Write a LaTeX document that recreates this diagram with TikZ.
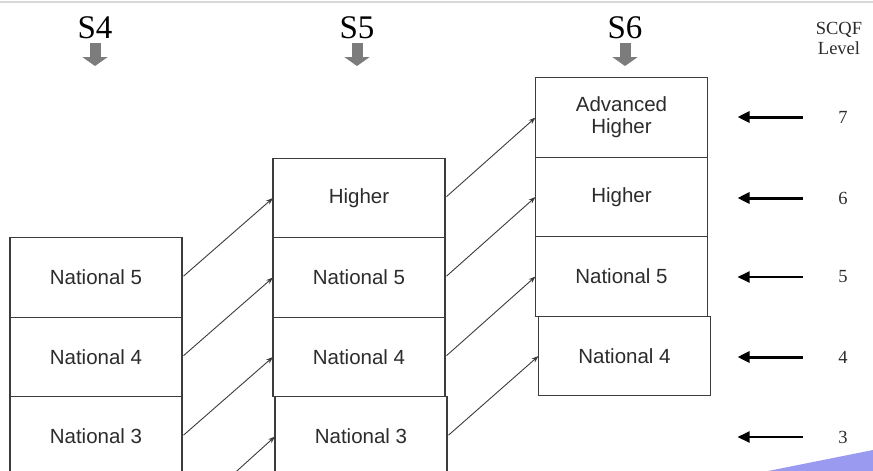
\documentclass[tikz,border=0pt]{standalone}
\usepackage{fontspec}
\setmainfont{Liberation Serif}
\newfontfamily\boxfont{Liberation Sans}
\usetikzlibrary{positioning}
\usetikzlibrary{arrows.meta}
\definecolor{boxline}{HTML}{3C3C3C}
\definecolor{boxtext}{HTML}{2C2C2C}
\definecolor{hdgray}{HTML}{7C7C7C}
\definecolor{cornerblue}{RGB}{154,154,240}

\begin{document}
\begin{tikzpicture}[x=1pt, y=-1pt,
levelbox/.style={rectangle, draw=boxline, line width=1.3pt, outer sep=0pt, minimum width=172pt, minimum height=79.5pt, align=center, text=boxtext, font=\boxfont\fontsize{20.5}{22}\selectfont},
yearlabel/.style={anchor=base, font=\fontsize{33}{35}\selectfont},
hdarrow/.style={hdgray, line width=11pt, -{Triangle[length=9pt, width=25pt]}},
stepline/.style={draw=boxline, line width=0.9pt, shorten <=2pt, -{Stealth[length=7pt, width=5pt]}},
levelnum/.style={font=\fontsize{18.5}{20}\selectfont, text=boxtext},
levelarrow/.style={line width=3pt, shorten >=30pt, shorten <=32pt, -{Triangle[length=12pt, width=11pt]}},
]
\fill[white] (0,0) rectangle (873,471);
\clip (0,0) rectangle (873,471);
\draw[gray!30, line width=1.5pt] (0,2) -- (873,2);
\fill[cornerblue] (768,471) -- (873,450) -- (873,471) -- cycle;

%Headers
\node[yearlabel] (s4) at (95,38)  {S4};
\node[yearlabel] (s5) at (357,38) {S5};
\node[yearlabel] (s6) at (625,38) {S6};
\node[align=center, font=\fontsize{18.5}{20}\selectfont, text=boxtext] (scqf) at (839,38) {SCQF\\Level};

\coordinate (t4) at (95,66);
\coordinate (t5) at (357,66);
\coordinate (t6) at (625,66);
\draw[hdarrow] (s4) ++(0,16) -- (t4);
\draw[hdarrow] (s5) ++(0,16) -- (t5);
\draw[hdarrow] (s6) ++(0,16) -- (t6);

%Nodes
\node[levelbox] (n5a) at (96,277.5)  {National 5};
\node[levelbox] (n4a) [below=0pt of n5a] {National 4};
\node[levelbox] (n3a) [below=0pt of n4a] {National 3};

\node[levelbox] (hi5) at (359,198)   {Higher};
\node[levelbox] (n55) [below=0pt of hi5] {National 5};
\node[levelbox] (n45) [below=0pt of n55] {National 4};
\node[levelbox] (n35) [below=0pt of n45, xshift=2pt] {National 3};

\node[levelbox] (ah6) at (621.5,117.5) {Advanced\\Higher};
\node[levelbox] (hi6) [below=0pt of ah6] {Higher};
\node[levelbox] (n56) [below=0pt of hi6] {National 5};
\node[levelbox] (n46) [below=0pt of n56, xshift=3pt] {National 4};

\coordinate (low4) at (186,517);

%Lines
\draw[stepline] (n5a.east) -- (hi5.west);
\draw[stepline] (n4a.east) -- (n55.west);
\draw[stepline] (n3a.east) -- (n45.west);
\draw[stepline] (low4) -- (n35.west);
\draw[stepline] (hi5.east) -- (ah6.west);
\draw[stepline] (n55.east) -- (hi6.west);
\draw[stepline] (n45.east) -- (n56.west);
\draw[stepline] (n35.east) -- (n46.west);

%Levels
\node[levelnum] (l7) at (843,117) {7};
\node[levelnum] (l6) at (843,198) {6};
\node[levelnum] (l5) at (843,277) {5};
\node[levelnum] (l4) at (843,357) {4};
\node[levelnum] (l3) at (843,437) {3};

\draw[levelarrow] (l7.west) -- (l7.west -| hi6.east);
\draw[levelarrow] (l6.west) -- (l6.west -| hi6.east);
\draw[levelarrow, line width=2pt] (l5.west) -- (l5.west -| hi6.east);
\draw[levelarrow] (l4.west) -- (l4.west -| hi6.east);
\draw[levelarrow, line width=2pt] (l3.west) -- (l3.west -| hi6.east);
\end{tikzpicture}
\end{document}
